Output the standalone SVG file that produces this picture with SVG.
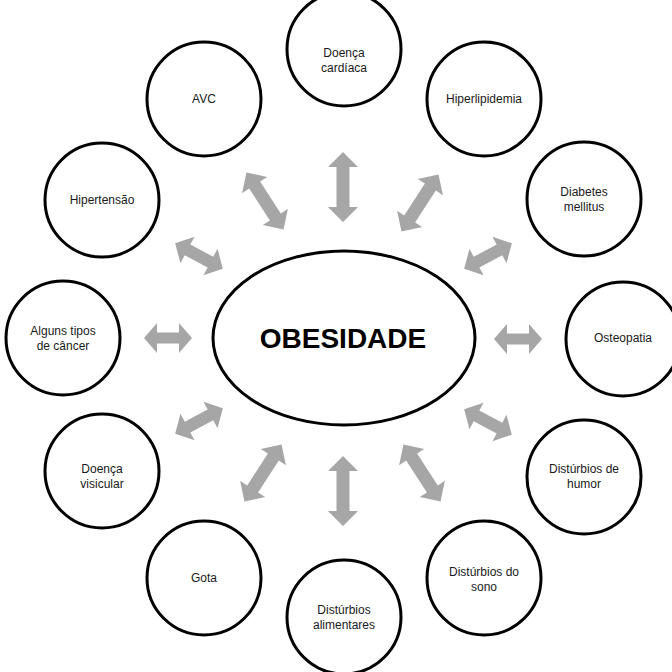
<svg xmlns="http://www.w3.org/2000/svg" xmlns:xlink="http://www.w3.org/1999/xlink" width="672" height="672" viewBox="0 0 672 672">
<style>
.node{fill:#fff;stroke:#000;stroke-width:3}
.lbl{font-family:"Liberation Sans",Arial,sans-serif;font-size:12px;fill:#1a1a1a;text-anchor:middle}
.title{font-family:"Liberation Sans",Arial,sans-serif;font-size:28px;font-weight:bold;fill:#000;text-anchor:middle}
.arr{fill:#a6a6a6}
</style>
<defs>
<path id="a70" d="M-35,0 L-20,-15 L-20,-6.5 L20,-6.5 L20,-15 L35,0 L20,15 L20,6.5 L-20,6.5 L-20,15 Z"/>
<path id="a68" d="M-34,0 L-19,-15 L-19,-6.5 L19,-6.5 L19,-15 L34,0 L19,15 L19,6.5 L-19,6.5 L-19,15 Z"/>
<path id="a54" d="M-27,0 L-13,-15 L-13,-6 L13,-6 L13,-15 L27,0 L13,15 L13,6 L-13,6 L-13,15 Z"/>
<path id="a48" d="M-24,0 L-11,-15 L-11,-5.5 L11,-5.5 L11,-15 L24,0 L11,15 L11,5.5 L-11,5.5 L-11,15 Z"/>
</defs>
<rect width="672" height="672" fill="#fff"/>
<g id="connectors" class="arr">
<use xlink:href="#a70" href="#a70" transform="translate(343,187) rotate(90)"/>
<use xlink:href="#a70" href="#a70" transform="translate(343,491) rotate(90)"/>
<use xlink:href="#a48" href="#a48" transform="translate(168,338)"/>
<use xlink:href="#a48" href="#a48" transform="translate(518,339)"/>
<use xlink:href="#a68" href="#a68" transform="translate(265,201) rotate(57)"/>
<use xlink:href="#a68" href="#a68" transform="translate(420,203) rotate(-57)"/>
<use xlink:href="#a68" href="#a68" transform="translate(263,473) rotate(-57)"/>
<use xlink:href="#a68" href="#a68" transform="translate(422,473) rotate(57)"/>
<use xlink:href="#a54" href="#a54" transform="translate(199,256) rotate(28)"/>
<use xlink:href="#a54" href="#a54" transform="translate(488,256) rotate(-28)"/>
<use xlink:href="#a54" href="#a54" transform="translate(199,421) rotate(-28)"/>
<use xlink:href="#a54" href="#a54" transform="translate(488,422) rotate(28)"/>
</g>
<g id="obesidade"><ellipse class="node" cx="344" cy="338" rx="131" ry="87"/><text class="title" x="343" y="348">OBESIDADE</text></g>
<g id="doenca-cardiaca"><circle class="node" cx="344" cy="49" r="57"/><text class="lbl" x="344" y="57">Doença</text><text class="lbl" x="344" y="72">cardíaca</text></g>
<g id="avc"><circle class="node" cx="204" cy="99" r="57"/><text class="lbl" x="204" y="103">AVC</text></g>
<g id="hiperlipidemia"><circle class="node" cx="484" cy="99" r="57"/><text class="lbl" x="484" y="103">Hiperlipidemia</text></g>
<g id="hipertensao"><circle class="node" cx="102" cy="200" r="57"/><text class="lbl" x="102" y="204">Hipertensão</text></g>
<g id="diabetes"><circle class="node" cx="584" cy="199" r="57"/><text class="lbl" x="584" y="196">Diabetes</text><text class="lbl" x="584" y="211">mellitus</text></g>
<g id="cancer"><circle class="node" cx="63" cy="338" r="57"/><text class="lbl" x="63" y="335">Alguns tipos</text><text class="lbl" x="63" y="350">de câncer</text></g>
<g id="osteopatia"><circle class="node" cx="623" cy="339" r="57"/><text class="lbl" x="623" y="342">Osteopatia</text></g>
<g id="doenca-visicular"><circle class="node" cx="102" cy="471" r="57"/><text class="lbl" x="102" y="473">Doença</text><text class="lbl" x="102" y="488">visicular</text></g>
<g id="humor"><circle class="node" cx="584" cy="477" r="57"/><text class="lbl" x="584" y="473">Distúrbios de</text><text class="lbl" x="584" y="488">humor</text></g>
<g id="gota"><circle class="node" cx="204" cy="578" r="57"/><text class="lbl" x="204" y="582">Gota</text></g>
<g id="sono"><circle class="node" cx="484" cy="578" r="57"/><text class="lbl" x="484" y="576">Distúrbios do</text><text class="lbl" x="484" y="591">sono</text></g>
<g id="alimentares"><circle class="node" cx="344" cy="617" r="57"/><text class="lbl" x="344" y="614">Distúrbios</text><text class="lbl" x="344" y="629">alimentares</text></g>
</svg>
